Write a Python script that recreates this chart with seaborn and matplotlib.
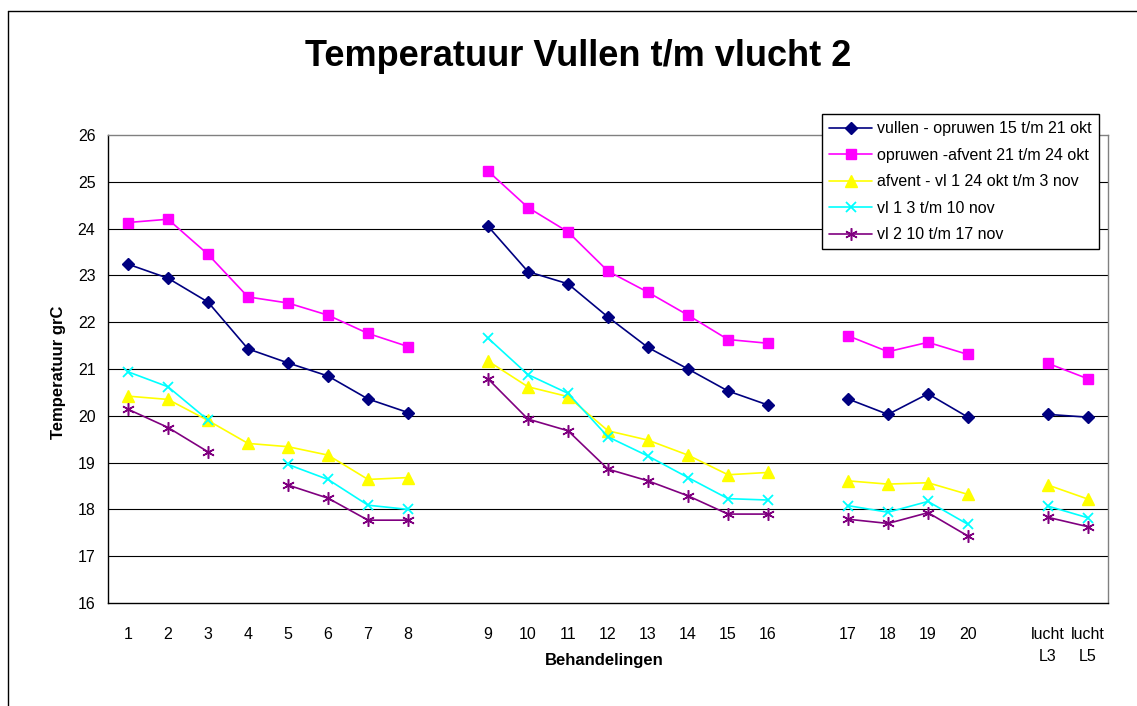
#!/usr/bin/env python3
"""Temperatuur Vullen t/m vlucht 2 - lijngrafiek per behandeling."""

import matplotlib
matplotlib.use("Agg")
import matplotlib.pyplot as plt
import numpy as np
import pandas as pd
import seaborn as sns
from matplotlib.lines import Line2D

NA = np.nan

# lege categorieën zijn de tussenruimtes in de grafiek
CATEGORIES = ["1", "2", "3", "4", "5", "6", "7", "8", "",
              "9", "10", "11", "12", "13", "14", "15", "16", "",
              "17", "18", "19", "20", "", "lucht\nL3", "lucht\nL5"]

VULLEN = [23.24, 22.94, 22.43, 21.43, 21.13, 20.85, 20.36, 20.07, NA,
          24.05, 23.08, 22.82, 22.11, 21.46, 21.00, 20.53, 20.23, NA,
          20.36, 20.03, 20.47, 19.97, NA, 20.03, 19.97]
OPRUWEN = [24.13, 24.20, 23.45, 22.54, 22.41, 22.15, 21.76, 21.48, NA,
           25.23, 24.45, 23.93, 23.09, 22.64, 22.15, 21.63, 21.55, NA,
           21.71, 21.37, 21.57, 21.31, NA, 21.12, 20.79]
AFVENT = [20.42, 20.35, 19.90, 19.41, 19.34, 19.16, 18.64, 18.68, NA,
          21.17, 20.62, 20.41, 19.68, 19.48, 19.16, 18.74, 18.79, NA,
          18.61, 18.54, 18.57, 18.32, NA, 18.52, 18.22]
VL1 = [20.94, 20.62, 19.91, NA, 18.96, 18.64, 18.09, 18.00, NA,
       21.66, 20.88, 20.48, 19.55, 19.14, 18.68, 18.23, 18.20, NA,
       18.08, 17.94, 18.17, 17.68, NA, 18.07, 17.82]
VL2 = [20.14, 19.75, 19.23, NA, 18.52, 18.24, 17.77, 17.77, NA,
       20.79, 19.93, 19.68, 18.86, 18.61, 18.29, 17.90, 17.90, NA,
       17.79, 17.70, 17.93, 17.43, NA, 17.83, 17.63]

SERIES_NAMES = ["vullen - opruwen 15 t/m 21 okt",
                "opruwen -afvent 21 t/m 24 okt",
                "afvent - vl 1 24 okt t/m 3 nov",
                "vl 1 3 t/m 10 nov",
                "vl 2 10 t/m 17 nov"]
SERIES_VALUES = [VULLEN, OPRUWEN, AFVENT, VL1, VL2]

STYLES = [
    dict(color="#000080", marker="D", markersize=6, mew=1.0),
    dict(color="#FF00FF", marker="s", markersize=7, mew=1.0),
    dict(color="#FFFF00", marker="^", markersize=8, mew=1.0),
    dict(color="#00FFFF", marker="x", markersize=7, mew=1.3),
    dict(color="#800080", marker=(6, 2, 0), markersize=9, mew=1.1),
]


def build_frame() -> pd.DataFrame:
    rows = []
    for name, values in zip(SERIES_NAMES, SERIES_VALUES):
        vals = np.array(values, dtype=float)
        # nieuw segment na elk ontbrekend punt, zodat de lijn onderbreekt
        segment = np.cumsum(np.isnan(vals))
        for pos, (v, seg) in enumerate(zip(vals, segment)):
            rows.append({"series": name, "pos": pos, "temp": v, "segment": seg})
    return pd.DataFrame(rows).dropna()


def main():
    sns.set_style("white")
    plt.rcParams["font.family"] = ["Liberation Sans", "DejaVu Sans"]
    plt.rcParams.update({
        "text.color": "black",
        "axes.labelcolor": "black",
        "xtick.color": "black",
        "ytick.color": "black",
    })

    df = build_frame()

    fig = plt.figure(figsize=(11.37, 7.06), dpi=100)
    ax = fig.add_axes([108 / 1137, 1 - 603 / 706, 1000 / 1137, 468 / 706])

    for y in range(17, 26):
        ax.axhline(y, color="black", lw=0.8, zorder=0)

    handles = []
    for name, style in zip(SERIES_NAMES, STYLES):
        sub = df[df["series"] == name]
        sns.lineplot(data=sub, x="pos", y="temp", units="segment", estimator=None,
                     color=style["color"], marker=style["marker"],
                     markersize=style["markersize"], mec=style["color"],
                     mew=style["mew"], lw=1.2, legend=False, ax=ax)
        handles.append(Line2D([], [], color=style["color"], marker=style["marker"],
                              markersize=style["markersize"], mec=style["color"],
                              mew=style["mew"], lw=1.2, label=name))

    ax.set_xlim(-0.5, len(CATEGORIES) - 0.5)
    ax.set_ylim(16, 26)
    ax.set_yticks(range(16, 27))
    ax.set_xticks(np.arange(-0.5, len(CATEGORIES), 1))
    ax.set_xticklabels([])
    ax.set_xticks(range(len(CATEGORIES)), minor=True)
    ax.set_xticklabels(CATEGORIES, minor=True)
    ax.tick_params(axis="x", which="major", length=4, width=0.8, color="black", direction="out")
    ax.tick_params(axis="x", which="minor", length=0, pad=17, labelsize=11.5,
                   labelcolor="black")
    ax.tick_params(axis="y", length=4, width=0.8, color="black", direction="out",
                   pad=5, labelsize=11.5, labelcolor="black")
    for label in ax.get_xticklabels(minor=True):
        label.set_linespacing(1.6)
    ax.set_xlabel("")
    ax.set_ylabel("")

    for side in ("left", "bottom"):
        ax.spines[side].set_color("black")
        ax.spines[side].set_linewidth(1)
    for side in ("top", "right"):
        ax.spines[side].set_color("#808080")
        ax.spines[side].set_linewidth(1)

    fig.text(578 / 1137, 1 - 57 / 706, "Temperatuur Vullen t/m vlucht 2",
             ha="center", va="center", fontsize=26, fontweight="bold", color="black")
    fig.text(604 / 1137, 1 - 661 / 706, "Behandelingen",
             ha="center", va="center", fontsize=12, fontweight="bold", color="black")
    fig.text(58 / 1137, 1 - 372 / 706, "Temperatuur grC", rotation=90,
             ha="center", va="center", fontsize=12, fontweight="bold", color="black")

    leg = fig.legend(handles=handles, loc="upper right",
                     bbox_to_anchor=(1099 / 1137, 1 - 114 / 706),
                     fontsize=11.5, frameon=True, fancybox=False, shadow=False,
                     handlelength=2.7, handletextpad=0.3, labelspacing=0.72,
                     borderpad=0.45, borderaxespad=0, numpoints=1)
    leg.get_frame().set_edgecolor("black")
    leg.get_frame().set_linewidth(1)
    leg.get_frame().set_alpha(1)
    for text in leg.get_texts():
        text.set_color("black")

    # buitenrand van het grafiekgebied
    fig.add_artist(Line2D([7.5 / 1137, 7.5 / 1137], [0, 1 - 11 / 706],
                          color="black", lw=1, transform=fig.transFigure))
    fig.add_artist(Line2D([7.5 / 1137, 1], [1 - 11 / 706, 1 - 11 / 706],
                          color="black", lw=1, transform=fig.transFigure))

    fig.savefig("out.png", dpi=100)


if __name__ == "__main__":
    main()
